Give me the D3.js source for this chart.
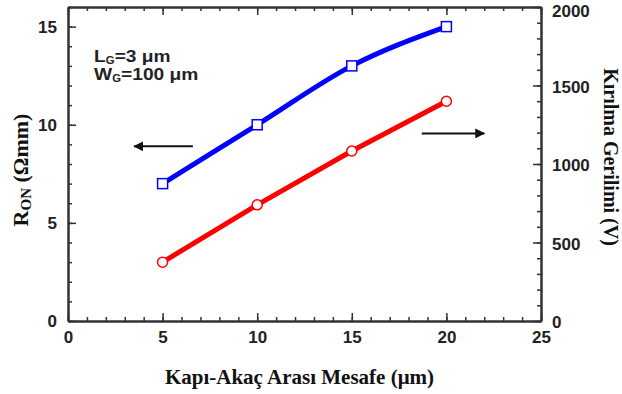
<!DOCTYPE html>
<html>
<head>
<meta charset="utf-8">
<script src="https://cdn.jsdelivr.net/npm/d3@7"></script>
<style>
  body { margin: 0; background: #fff; }
  .tick text { font-family: "Liberation Sans", Arial, sans-serif; font-weight: bold; font-size: 17px; fill: #222; }
  .axis path, .axis line { stroke: #333; }
  .title { font-family: "Liberation Serif", "Times New Roman", serif; font-weight: bold; fill: #111; }
</style>
</head>
<body>
<div id="container"></div>
<script>
// data
const distance = [5, 10, 15, 20];
const ron = [7, 10, 13, 15];
const breakdown = [375, 740, 1083, 1400];
const xTicks = [0, 5, 10, 15, 20, 25];
const leftTicks = [0, 5, 10, 15];
const rightTicks = [0, 500, 1000, 1500, 2000];

const width = 622;
const height = 394;
const margin = { left: 68, right: 81, top: 7, bottom: 73 };
const iw = width - margin.left - margin.right;
const ih = height - margin.top - margin.bottom;

const svg = d3.select('#container').append('svg')
  .attr('width', width).attr('height', height);

const defs = svg.append('defs');
defs.append('marker')
  .attr('id', 'arrow')
  .attr('viewBox', '0 0 10 10')
  .attr('refX', 9).attr('refY', 5)
  .attr('markerWidth', 5).attr('markerHeight', 5)
  .attr('orient', 'auto-start-reverse')
  .append('path').attr('d', 'M0,0 L10,5 L0,10 z').attr('fill', '#111');

const g = svg.append('g').attr('transform', `translate(${margin.left},${margin.top})`);

const x = d3.scaleLinear().domain([0, 25]).range([0, iw]);
const yL = d3.scaleLinear().domain([0, 16]).range([ih, 0]);
const yR = d3.scaleLinear().domain([0, 2000]).range([ih, 0]);

// minor ticks
const minor = (axis, ticks) => axis.tickValues(ticks).tickSize(-4).tickSizeOuter(0).tickFormat('');
g.append('g').attr('class', 'axis').attr('transform', `translate(0,${ih})`)
  .call(minor(d3.axisBottom(x), d3.range(0, 26)));
g.append('g').attr('class', 'axis')
  .call(minor(d3.axisTop(x), d3.range(0, 26)));
g.append('g').attr('class', 'axis')
  .call(minor(d3.axisLeft(yL), d3.range(0, 17)));
g.append('g').attr('class', 'axis').attr('transform', `translate(${iw},0)`)
  .call(minor(d3.axisRight(yR), d3.range(0, 2001, 100)));

// major ticks
g.append('g').attr('class', 'axis').attr('transform', `translate(0,${ih})`)
  .call(d3.axisBottom(x).tickValues(xTicks).tickSize(-8).tickSizeOuter(0).tickPadding(10));
g.append('g').attr('class', 'axis')
  .call(d3.axisTop(x).tickValues(xTicks).tickSize(-8).tickSizeOuter(0).tickFormat(''));
g.append('g').attr('class', 'axis')
  .call(d3.axisLeft(yL).tickValues(leftTicks).tickSize(-8).tickSizeOuter(0).tickPadding(11));
const rAxis = g.append('g').attr('class', 'axis').attr('transform', `translate(${iw},0)`)
  .call(d3.axisRight(yR).tickValues(rightTicks).tickFormat(d3.format('d'))
    .tickSize(-8).tickSizeOuter(0).tickPadding(11));
rAxis.selectAll('.tick text').attr('dy', (d) => (d === 2000 ? '0.55em' : '0.4em'));

g.selectAll('.axis path.domain').attr('stroke-width', 2);
g.selectAll('.axis .tick line').attr('stroke-width', 1.5);

// lines
const blueLine = d3.line().x((d, i) => x(distance[i])).y((d) => yL(d)).curve(d3.curveMonotoneX);
const redLine = d3.line().x((d, i) => x(distance[i])).y((d) => yR(d));

g.append('path').datum(ron).attr('d', blueLine)
  .attr('fill', 'none').attr('stroke', '#0000ff').attr('stroke-width', 5);
g.append('path').datum(breakdown).attr('d', redLine)
  .attr('fill', 'none').attr('stroke', '#ff0000').attr('stroke-width', 5);

g.selectAll('.sq').data(ron).enter().append('rect')
  .attr('x', (d, i) => x(distance[i]) - 5).attr('y', (d) => yL(d) - 5)
  .attr('width', 10).attr('height', 10)
  .attr('fill', '#fff').attr('stroke', '#0000ff').attr('stroke-width', 1.5);
g.selectAll('.ci').data(breakdown).enter().append('circle')
  .attr('cx', (d, i) => x(distance[i])).attr('cy', (d) => yR(d)).attr('r', 5)
  .attr('fill', '#fff').attr('stroke', '#ff0000').attr('stroke-width', 1.5);

// arrows
g.append('line')
  .attr('x1', x(6.6)).attr('x2', x(3.5)).attr('y1', yL(8.9)).attr('y2', yL(8.9))
  .attr('stroke', '#111').attr('stroke-width', 2).attr('marker-end', 'url(#arrow)');
g.append('line')
  .attr('x1', x(18.7)).attr('x2', x(22)).attr('y1', yR(1195)).attr('y2', yR(1195))
  .attr('stroke', '#111').attr('stroke-width', 2).attr('marker-end', 'url(#arrow)');

// annotation (slightly wide lettering, as in the source)
const ann = g.append('g')
  .attr('transform', `translate(${x(1.38)},0) scale(1.13,1)`)
  .attr('font-family', '"Liberation Sans", Arial, sans-serif')
  .attr('font-weight', 'bold').attr('font-size', 17).attr('fill', '#222');
const t1 = ann.append('text').attr('x', 0).attr('y', 55);
t1.append('tspan').text('L');
t1.append('tspan').attr('font-size', 10).attr('dy', 2).text('G');
t1.append('tspan').attr('dy', -2).text('=3 μm');
const t2 = ann.append('text').attr('x', 0).attr('y', 73.5);
t2.append('tspan').text('W');
t2.append('tspan').attr('font-size', 10).attr('dy', 2).text('G');
t2.append('tspan').attr('dy', -2).text('=100 μm');

// titles
svg.append('text').attr('class', 'title')
  .attr('x', margin.left + iw / 2 - 5).attr('y', 384)
  .attr('text-anchor', 'middle').attr('font-size', 21)
  .text('Kapı-Akaç Arası Mesafe (μm)');

const lt = svg.append('text').attr('class', 'title')
  .attr('transform', `translate(28,${margin.top + ih / 2 + 6}) rotate(-90)`)
  .attr('text-anchor', 'middle').attr('font-size', 22);
lt.append('tspan').text('R');
lt.append('tspan').attr('font-size', 15).attr('dy', 3).text('ON');
lt.append('tspan').attr('dy', -3).text(' (Ωmm)');

svg.append('text').attr('class', 'title')
  .attr('transform', `translate(604,${margin.top + ih / 2 - 7}) rotate(90)`)
  .attr('text-anchor', 'middle').attr('font-size', 20)
  .text('Kırılma Gerilimi (V)');
</script>
</body>
</html>
